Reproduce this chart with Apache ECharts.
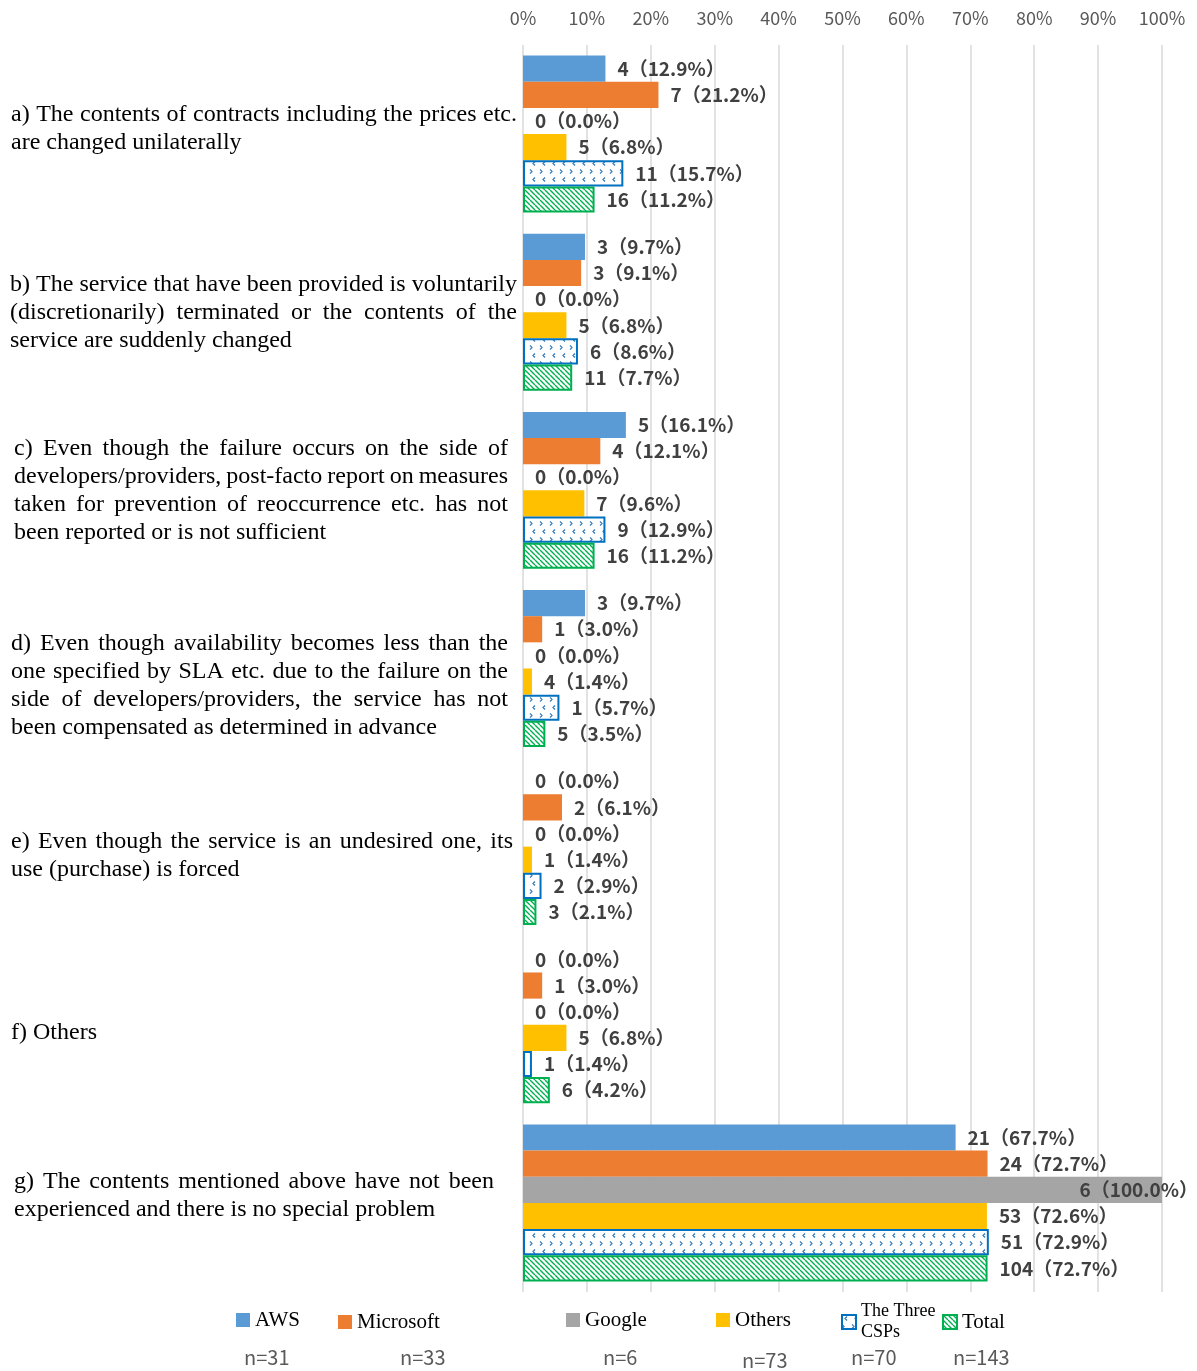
<!DOCTYPE html>
<html><head><meta charset="utf-8">
<script src="https://cdn.jsdelivr.net/npm/echarts@6/dist/echarts.min.js"></script>
<style>html,body{margin:0;padding:0;background:#fff}#chart{width:1197px;height:1371px}</style>
</head><body><div id="chart"></div>
<script>
// ---------- DATA ----------
const categoryLines = [
  ['a) The contents of contracts including the prices etc.', 'are changed unilaterally'],
  ['b) The service that have been provided is voluntarily', '(discretionarily) terminated or the contents of the', 'service are suddenly changed'],
  ['c) Even though the failure occurs on the side of', 'developers/providers, post-facto report on measures', 'taken for prevention of reoccurrence etc. has not', 'been reported or is not sufficient'],
  ['d) Even though availability becomes less than the', 'one specified by SLA etc. due to the failure on the', 'side of developers/providers, the service has not', 'been compensated as determined in advance'],
  ['e) Even though the service is an undesired one, its', 'use (purchase) is forced'],
  ['f) Others'],
  ['g) The contents mentioned above have not been', 'experienced and there is no special problem']
];
const seriesNames = ['AWS', 'Microsoft', 'Google', 'Others', 'The Three CSPs', 'Total'];
const awsCount    = [4, 3, 5, 3, 0, 0, 21];
const awsPct      = [12.9, 9.7, 16.1, 9.7, 0.0, 0.0, 67.7];
const msCount     = [7, 3, 4, 1, 2, 1, 24];
const msPct       = [21.2, 9.1, 12.1, 3.0, 6.1, 3.0, 72.7];
const googleCount = [0, 0, 0, 0, 0, 0, 6];
const googlePct   = [0.0, 0.0, 0.0, 0.0, 0.0, 0.0, 100.0];
const othersCount = [5, 5, 7, 4, 1, 5, 53];
const othersPct   = [6.8, 6.8, 9.6, 1.4, 1.4, 6.8, 72.6];
const threeCount  = [11, 6, 9, 1, 2, 1, 51];
const threePct    = [15.7, 8.6, 12.9, 5.7, 2.9, 1.4, 72.9];
const totalCount  = [16, 11, 16, 5, 3, 6, 104];
const totalPct    = [11.2, 7.7, 11.2, 3.5, 2.1, 4.2, 72.7];
const nValues     = [31, 33, 6, 73, 70, 143];
const xMin = 0, xMax = 100, xStep = 10;

// ---------- LAYOUT ----------
const anchorX = 10;
const labelBox = [[11, 517], [10, 517], [14, 508], [11, 508], [11, 513], [11, null], [14, 494]];
const labelShift = [-5, 0, 0, 17, 9, 7.5, -7];
const legendPos = [[236, 1320], [338, 1322], [566, 1320], [716, 1320], [841, 1322], [942, 1322]];
const nPos = [[244, 1357], [400, 1357], [603, 1357], [742, 1360], [851, 1357], [953, 1357]];

const SERIF = '"Liberation Serif", "Times New Roman", serif';
const SANS = '"Noto Sans CJK JP", "Noto Sans", sans-serif';

// ---------- justified category labels ----------
const mctx = document.createElement('canvas').getContext('2d');
mctx.font = '24px "Liberation Serif"';
const baseRich = { fontSize: 24, fontFamily: SERIF, color: '#000', lineHeight: 28 };
const rich = {};
function buildLabel(ci) {
  const lines = categoryLines[ci];
  const sx = labelBox[ci][0], ex = labelBox[ci][1];
  const lead = sx - anchorX;
  return lines.map((line, li) => {
    let s = '';
    if (lead > 0.5) {
      const k = 'l' + ci;
      rich[k] = Object.assign({ width: lead }, baseRich);
      s += '{' + k + '| }';
    }
    const isLast = li === lines.length - 1;
    if (isLast || ex == null) return s + line;
    const words = line.split(' ');
    const W = words.reduce((a, w) => a + mctx.measureText(w).width, 0);
    const gap = (ex - sx - W) / (words.length - 1);
    const k = 'g' + ci + '_' + li;
    rich[k] = Object.assign({ width: gap }, baseRich);
    return s + words.join('{' + k + '| }');
  }).join('\n');
}
const labelStrings = categoryLines.map((_, i) => buildLabel(i));

// ---------- patterns ----------
function dotPattern() {
  const c = document.createElement('canvas');
  c.width = 10; c.height = 16;
  const g = c.getContext('2d');
  g.fillStyle = '#fff'; g.fillRect(0, 0, 10, 16);
  g.strokeStyle = '#2E75B6'; g.lineWidth = 1.2;
  g.beginPath();
  g.moveTo(5, 1.5); g.lineTo(3, 3.5); g.lineTo(5, 5.5);
  g.moveTo(0, 9.5); g.lineTo(2, 11.5); g.lineTo(0, 13.5);
  g.moveTo(10, 9.5); g.lineTo(12, 11.5); g.lineTo(10, 13.5);
  g.stroke();
  return c;
}
function hatchPattern() {
  const s = 5;
  const c = document.createElement('canvas');
  c.width = s; c.height = s;
  const g = c.getContext('2d');
  g.fillStyle = '#fff'; g.fillRect(0, 0, s, s);
  g.strokeStyle = '#00B050'; g.lineWidth = 1.4;
  g.beginPath();
  [-s, 0, s].forEach(k => { g.moveTo(k, 0); g.lineTo(k + s, s); });
  g.stroke();
  return c;
}

const styles = [
  { color: '#5B9BD5' },
  { color: '#ED7D31' },
  { color: '#A5A5A5' },
  { color: '#FFC000' },
  { color: { image: dotPattern(), repeat: 'repeat' }, borderColor: '#0070C0', borderWidth: 2 },
  { color: { image: hatchPattern(), repeat: 'repeat' }, borderColor: '#00B050', borderWidth: 2 }
];
const counts = [awsCount, msCount, googleCount, othersCount, threeCount, totalCount];
const pcts = [awsPct, msPct, googlePct, othersPct, threePct, totalPct];

const series = seriesNames.map((name, si) => ({
  name,
  type: 'bar',
  barGap: '0%',
  barCategoryGap: '11.9%',
  itemStyle: styles[si],
  data: pcts[si].map(v => v >= xMax
    ? { value: v, label: { position: 'insideRight', offset: [48, 0] } }
    : v),
  label: {
    show: true,
    position: 'right',
    distance: 12,
    fontFamily: SANS,
    fontWeight: 'bold',
    fontSize: 19,
    color: '#404040',
    formatter: p => counts[si][p.dataIndex] + '（' + pcts[si][p.dataIndex].toFixed(1) + '%）'
  },
  emphasis: { disabled: true }
}));

const legends = seriesNames.map((name, i) => {
  const two = name === 'The Three CSPs';
  const lh = two ? 21 : 24;
  const h = two ? 42 : 24;
  return {
    data: [name],
    left: legendPos[i][0],
    top: legendPos[i][1] - h / 2,
    padding: 0,
    itemWidth: 14,
    itemHeight: 14,
    icon: 'rect',
    selectedMode: false,
    formatter: two ? 'The Three\nCSPs' : '{name}',
    textStyle: { fontFamily: SERIF, fontSize: two ? 18 : 21, color: '#000', lineHeight: lh }
  };
});

const chart = echarts.init(document.getElementById('chart'), null, { renderer: 'canvas' });
chart.setOption({
  animation: false,
  backgroundColor: '#fff',
  grid: { left: 523, right: 35, top: 45, bottom: 79, containLabel: false, outerBoundsMode: 'none' },
  xAxis: {
    type: 'value',
    position: 'top',
    min: xMin, max: xMax, interval: xStep,
    axisLine: { show: false },
    axisTick: { show: false },
    splitLine: { show: true, lineStyle: { color: '#D9D9D9', width: 1.5 } },
    axisLabel: { formatter: '{value}%', color: '#595959', fontSize: 18, fontFamily: SANS, margin: 18, hideOverlap: false }
  },
  yAxis: {
    type: 'category',
    inverse: true,
    data: categoryLines.map((l, i) => ({
      value: l.join(' '),
      textStyle: {
        align: 'left',
        verticalAlign: 'middle',
        padding: labelShift[i] >= 0 ? [2 * labelShift[i], 0, 0, 0] : [0, 0, -2 * labelShift[i], 0]
      }
    })),
    axisLine: { show: false },
    axisTick: { show: false },
    axisLabel: {
      interval: 0,
      align: 'left',
      verticalAlign: 'middle',
      margin: 523 - anchorX,
      fontSize: 24,
      fontFamily: SERIF,
      color: '#000',
      lineHeight: 28,
      formatter: (v, idx) => labelStrings[idx],
      rich: rich
    }
  },
  legend: legends,
  series: series,
  graphic: nValues.map((n, i) => ({
    type: 'text',
    x: nPos[i][0],
    y: nPos[i][1],
    style: { text: 'n=' + n, fontSize: 20, fontFamily: SANS, fill: '#595959', verticalAlign: 'middle', align: 'left' }
  }))
});
</script></body></html>
